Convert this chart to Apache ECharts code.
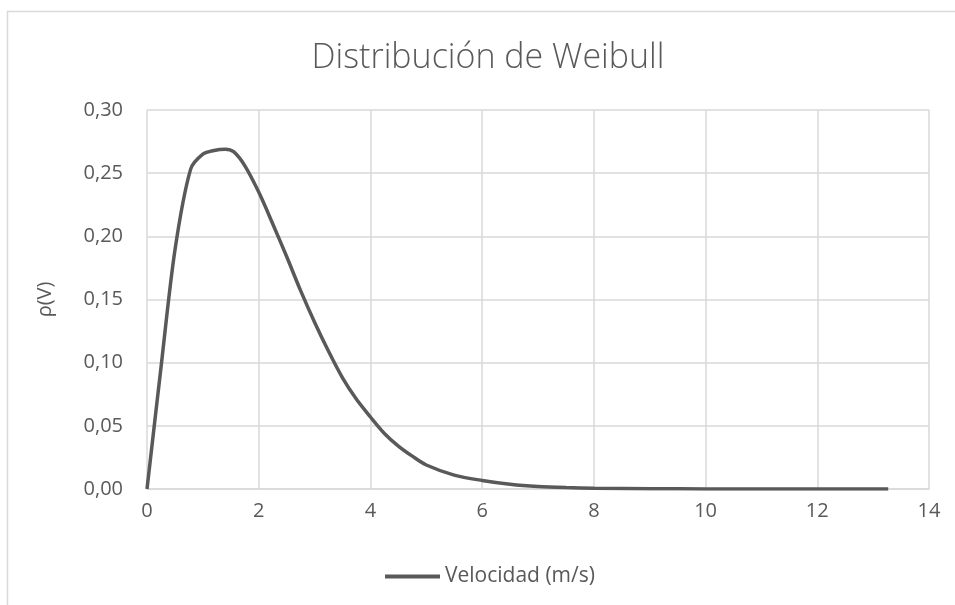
<!DOCTYPE html>
<html>
<head>
<meta charset="utf-8">
<script src="https://cdn.jsdelivr.net/npm/echarts@6/dist/echarts.min.js"></script>
<style>
html,body{margin:0;padding:0;background:#fff;}
#chart{width:955px;height:605px;}
</style>
</head>
<body>
<div id="chart"></div>
<script>
var title = 'Distribución de Weibull';
var seriesName = 'Velocidad (m/s)';
var yAxisName = 'ρ(V)';
var velocity = [0, 0.25, 0.5, 0.78, 1.0, 1.2, 1.4, 1.55, 1.75, 2.0, 2.25, 2.5, 2.75, 3.0, 3.25, 3.5, 3.75, 4.0, 4.25, 4.5, 4.75, 5.0, 5.5, 6.0, 6.5, 7.0, 7.5, 8.0, 9.0, 10.0, 11.0, 12.0, 13.27];
var density  = [0, 0.096, 0.189, 0.253, 0.265, 0.268, 0.269, 0.267, 0.256, 0.235, 0.210, 0.184, 0.157, 0.132, 0.109, 0.088, 0.071, 0.057, 0.044, 0.034, 0.026, 0.019, 0.011, 0.0068, 0.0038, 0.0020, 0.0011, 0.0006, 0.0002, 0.00005, 0, 0, 0];

var pairs = velocity.map(function (v, i) { return [v, density[i]]; });
var FONT = '"Open Sans", "Noto Sans", sans-serif';
var chart = echarts.init(document.getElementById('chart'), null, {renderer: 'canvas'});
chart.setOption({
  animation: false,
  backgroundColor: '#fff',
  graphic: [{
    type: 'rect', silent: true, z: -10,
    shape: {x: 7.5, y: 11.5, width: 1000, height: 700},
    style: {fill: 'none', stroke: '#d9d9d9', lineWidth: 1.5}
  }],
  title: {
    text: title, left: 483, top: 36, textAlign: 'center',
    textStyle: {fontFamily: FONT, fontWeight: 300, fontSize: 34, color: '#595959'}
  },
  legend: {
    data: [{name: seriesName, icon: 'rect'}], left: 380, top: 561,
    itemWidth: 55, itemHeight: 4, itemGap: 10,
    textStyle: {fontFamily: FONT, fontSize: 21, color: '#595959', padding: [0, 0, 0, 0]}
  },
  grid: {left: 147, right: 26, top: 110, bottom: 116, containLabel: false},
  xAxis: {
    type: 'value', min: 0, max: 14, interval: 2,
    axisLine: {show: true, lineStyle: {color: '#d9d9d9', width: 1.5}},
    axisTick: {show: false},
    splitLine: {show: true, lineStyle: {color: '#d9d9d9', width: 1.5}},
    axisLabel: {margin: 12, fontFamily: FONT, fontSize: 20, color: '#595959'}
  },
  yAxis: {
    type: 'value', min: 0, max: 0.30, interval: 0.05,
    name: yAxisName, nameLocation: 'middle', nameGap: 92, nameRotate: 90,
    nameTextStyle: {fontFamily: FONT, fontSize: 20, color: '#595959'},
    axisLine: {show: false},
    axisTick: {show: false},
    splitLine: {show: true, lineStyle: {color: '#d9d9d9', width: 1.5}},
    axisLabel: {
      margin: 24, fontFamily: FONT, fontSize: 20, color: '#595959',
      formatter: function (v) { return v.toFixed(2).replace('.', ','); }
    }
  },
  series: [{
    name: seriesName, type: 'line', data: pairs,
    smooth: 0.3, showSymbol: false, symbol: 'none',
    lineStyle: {color: '#595959', width: 3.5},
    itemStyle: {color: '#595959'}
  }]
});
</script>
</body>
</html>
